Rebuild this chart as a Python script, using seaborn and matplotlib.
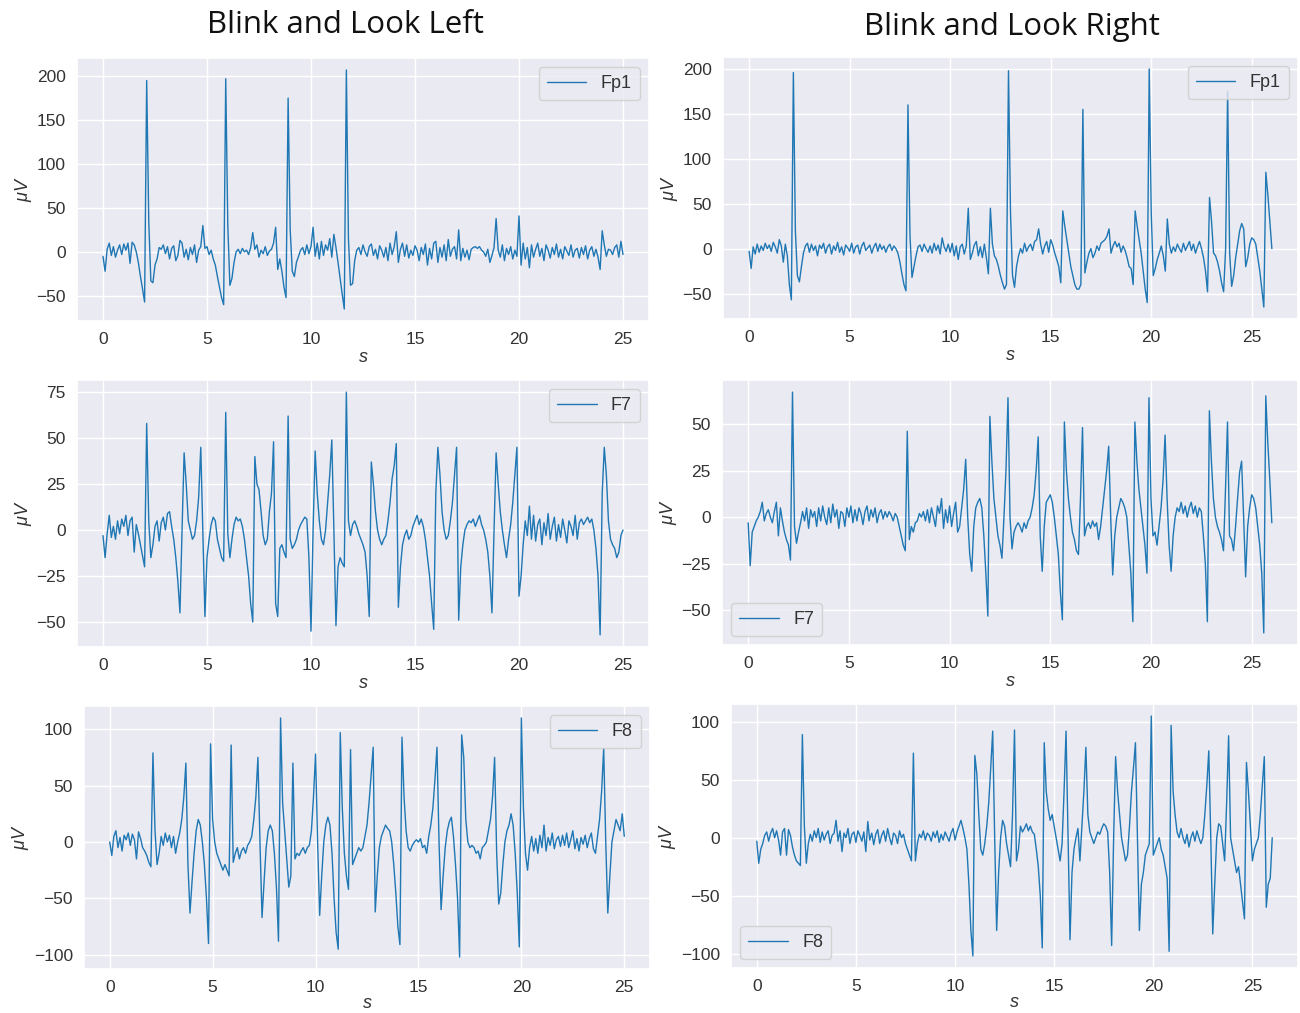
import numpy as np
import pandas as pd
import matplotlib
matplotlib.use("Agg")
import matplotlib.pyplot as plt
import seaborn as sns

DT = 0.1  # sampling step of the hand-read traces (s)

# ---------------- Blink and Look Left ----------------
left_fp1 = [
    -5, -22, 3, 10, -4, 6, -6, 2, 8, -3,
    9, 2, 10, -13, 11, 8, 0, -12, -28, -42,
    -57, 195, 35, -33, -35, -15, -8, 5, 3, 8,
    -2, 6, -8, 4, 7, -10, -4, 13, 10, -6,
    3, -9, 5, -3, 8, -12, 2, 6, 30, 4,
    6, -3, 2, -8, -15, -28, -40, -52, -60, 197,
    30, -38, -30, -12, 0, 3, -2, 4, 0, 2,
    -3, 5, 22, 3, 8, -6, 2, -2, 6, -4,
    1, 3, 10, 28, -20, -8, -22, -40, -52, 175,
    25, -22, -28, -12, -5, 2, 5, -3, 8, -2,
    6, 28, -5, 10, -8, 12, -4, 8, 2, 15,
    -6, 20, 5, -12, -30, -48, -65, 207, 15, -38,
    -36, -10, 2, 5, -3, 8, 0, -5, 6, 9,
    -4, 3, -8, 7, 2, -6, 5, -10, 10, -3,
    6, 23, -12, 3, 10, -5, 8, -7, 2, -4,
    7, 2, -10, 5, -3, 9, -15, 4, -8, 10,
    12, -12, 5, -6, 8, -10, 14, -5, 3, 6,
    -8, 25, -10, 4, -6, 2, -9, 3, 5, 6,
    4, 6, 2, 0, -5, 3, -12, -4, 5, 38,
    2, -6, 8, -10, 4, -3, 6, -8, 2, -5,
    41, -15, 10, -8, 5, -18, 8, -6, 3, 10,
    -5, 4, -10, 8, 2, -7, 5, -3, 9, -6,
    3, -8, 6, 1, -4, 8, -6, 2, 4, -7,
    5, -3, 7, -8, 2, 6, -5, 3, -6, -20,
    24, 8, -5, 3, 2, -3, 5, 8, -6, 12,
    -3,
]

left_f7 = [
    -3, -15, -2, 8, -4, 2, -5, 5, -2, 6,
    2, 8, -3, 5, 7, -12, 3, -2, -8, -14,
    -20, 58, 5, -15, -8, 2, 5, -6, 4, 7,
    0, 9, 10, 2, -5, -15, -28, -45, 0, 42,
    25, 5, 0, -5, -3, 5, 18, 45, 0, -47,
    -15, -5, 3, 7, 5, -5, -10, -15, -17, 64,
    -2, -15, -5, 3, 7, 5, 6, 2, -5, -15,
    -25, -40, -50, 40, 25, 22, 10, -3, -8, -5,
    10, 20, 48, -40, -47, -10, -8, -12, -15, 62,
    -5, -10, -8, -5, 0, 3, 5, 7, 6, -15,
    -55, 0, 43, 20, 5, -5, -8, 0, 15, 30,
    49, 0, -52, -20, -15, -18, -20, 75, 5, -3,
    3, 5, 2, -2, -5, -8, -12, -25, -47, 37,
    25, 10, 0, -5, -8, -5, -3, 5, 15, 28,
    35, 47, -42, -20, -8, -3, 0, -5, -3, 2,
    5, 8, 3, 6, 2, -5, -15, -25, -40, -54,
    20, 45, 30, 10, 0, -5, -3, 5, 15, 30,
    45, -49, -20, -8, 0, 3, 5, 4, 6, 2,
    5, 8, 3, 0, -5, -12, -25, -45, 0, 42,
    25, 10, 0, -8, -15, -5, 3, 15, 30, 45,
    -36, -25, -8, 5, -3, 13, -5, 8, -6, 3,
    6, -8, 4, -3, 9, -5, 2, 7, -6, 3,
    -4, 6, 0, -7, 5, 2, -3, 8, -5, 4,
    6, 3, 5, 7, 4, 6, 0, -10, -25, -57,
    20, 45, 30, 5, -5, -8, -10, -15, -12, -3,
    0,
]

left_f8 = [
    0, -12, 5, 10, -5, 4, -8, 6, 2, 8,
    -3, 7, 2, -15, 9, 3, -5, -8, -12, -18,
    -22, 79, 10, -20, -10, 5, -3, 8, 0, 6,
    -5, 5, -10, 0, 8, 20, 40, 70, -20, -63,
    -35, -10, 10, 20, 15, 0, -20, -50, -90, 87,
    20, 0, -10, -15, -20, -25, -20, -25, -30, 86,
    -18, -10, -5, -15, -8, -5, -10, -3, 0, 5,
    20, 40, 75, 0, -67, -35, -5, 10, 15, 10,
    -10, -40, -88, 110, 35, 10, -15, -40, -30, 70,
    -15, -10, -12, -8, -5, -10, -5, -3, 10, 40,
    78, 0, -65, -30, 0, 15, 22, 15, -10, -50,
    -80, -95, 97, 30, -10, -30, -42, 82, -20, -15,
    -10, -5, -8, -5, 5, 15, 35, 60, 84, -62,
    -30, -5, 5, 10, 15, 12, 10, 0, -20, -45,
    -75, -91, 93, 40, 10, -5, -8, -3, 0, 2,
    0, 3, -5, -3, -10, 5, 15, 30, 55, 84,
    0, -60, -30, -5, 10, 18, 22, 5, -20, -50,
    -102, 95, 75, 20, 0, -5, -3, -5, -10, -8,
    -15, -5, -3, 0, 10, 20, 40, 75, -10, -55,
    -45, -20, 0, 10, 15, 25, 15, -10, -45, -93,
    110, 30, -10, -25, -5, 5, -8, 3, -10, 6,
    -5, 15, -8, 4, -3, 8, -6, 2, 5, -4,
    6, -3, 8, -5, 2, 10, -6, 3, -8, 4,
    -2, 6, -5, 3, 8, -6, -10, 5, 20, 45,
    83, 0, -63, -30, 0, 10, 20, 15, 10, 25,
    5,
]

# ---------------- Blink and Look Right ----------------
right_fp1 = [
    -3, -22, 2, -6, 5, -4, 3, -2, 6, 0,
    4, -3, 7, 2, -5, 10, 3, -15, 5, -8,
    -40, -57, 196, 20, -30, -37, -20, -5, 3, 6,
    -4, 5, -2, 3, -8, 4, 0, 6, -5, 2,
    5, -6, 3, -2, 7, -4, 2, -7, 4, 1,
    -3, 6, -5, 2, 4, -6, 3, 7, -2, 1,
    4, -5, 2, 6, -3, 5, -1, 3, -4, 2,
    5, -2, 3, 0, -5, -15, -28, -40, -47, 160,
    15, -32, -20, -8, 2, 4, -3, 5, 0, -4,
    3, -5, 6, -2, 4, -6, 12, 2, -3, 5,
    -4, 6, -8, 3, -12, 2, 5, -6, 3, 45,
    -12, -5, 4, 8, -8, 2, -10, 5, -10, -28,
    45, 5, -8, -12, -20, -30, -38, -45, -40, 198,
    40, -30, -43, -20, -8, 0, -5, 6, -3, 2,
    5, -2, 8, 10, 22, 5, -6, 3, 8, -4,
    10, 4, -5, -12, -20, -38, 42, 25, 10, -5,
    -20, -30, -40, -45, -45, -40, 155, -27, -15, -5,
    0, -10, -5, 3, -2, 6, 8, 10, 14, 22,
    -5, 3, 8, 2, 6, -4, 3, -2, -10, -20,
    -22, -40, 42, 25, 10, -5, -25, -45, -60, 200,
    40, -30, -22, -12, -5, 3, -8, -25, 33, 5,
    -5, 2, -3, 5, 0, -4, 6, -2, 3, 8,
    -2, 5, -5, 2, 8, 0, -10, -25, -48, 57,
    30, -5, -8, -15, -25, -38, -48, 0, 175, -5,
    -42, -30, -10, 5, 20, 28, 22, -20, -10, 5,
    12, 10, 5, -10, -25, -45, -65, 85, 60, 30,
    0,
]

right_f7 = [
    -3, -26, -8, -5, -2, 0, 3, 8, -2, 2,
    4, 0, -3, 3, 8, -10, 5, -2, -8, -12,
    -15, -23, 67, -5, -14, -8, -3, 3, -2, 5,
    -6, 4, 0, 3, -5, 5, -2, 6, 0, -4,
    5, -3, 7, 0, 4, -6, 3, 2, -5, 5,
    0, 6, -3, 4, -2, 5, 2, -4, 3, 6,
    -2, 4, 0, 5, -3, 2, 4, -1, 3, 0,
    3, 1, -2, 2, 0, -5, -10, -15, -18, 46,
    -12, -5, -8, -3, -2, 2, 0, 3, -2, 4,
    -3, 5, 0, -5, 6, 2, 10, -6, 4, -3,
    6, -5, 2, 8, -8, -5, 5, 15, 31, 0,
    -20, -29, -5, 5, 8, 10, 5, -10, -30, -53,
    54, 30, 10, 0, -10, -15, -22, 0, 25, 64,
    0, -17, -8, -5, -3, -5, -8, -3, -6, -2,
    0, 5, 12, 25, 43, -10, -29, -5, 8, 10,
    12, 8, 0, -10, -20, -40, -55, 51, 25, 10,
    0, -8, -12, -18, -20, 10, 48, -10, -5, -3,
    -6, -2, -5, -3, -12, -5, 5, 15, 25, 38,
    0, -31, -10, 0, 5, 10, 8, 5, 0, -15,
    -30, -56, 51, 30, 15, 5, -5, -15, -30, 64,
    10, -10, -8, -15, -5, 5, 20, 44, 10, -15,
    -29, -10, 0, 5, 3, 8, 2, 6, 0, 5,
    8, 2, 6, 0, 5, 3, -10, -25, -56, 57,
    30, 10, 0, -5, -8, -12, -18, 15, 51, -10,
    -12, -18, -5, 10, 24, 30, 0, -32, -5, 5,
    12, 10, 5, -5, -15, -30, -62, 65, 40, 20,
    -3,
]

right_f8 = [
    -3, -22, -10, -5, 2, 5, -3, 4, 8, 0,
    6, -2, -15, 5, 8, -15, 7, 2, -8, -15,
    -20, -22, -24, 89, 10, -22, -5, 3, -3, 6,
    0, 8, -4, 5, -2, 3, 6, -5, 2, 4,
    15, -3, 6, -12, 4, 0, 8, -5, 3, 5,
    -4, 6, 2, -3, 5, -12, 14, -2, 4, -6,
    3, 7, -5, 2, 6, -3, 8, 0, -6, 4,
    2, -5, 6, 0, 3, -5, -10, -15, -20, 73,
    -20, -5, 3, 0, 6, -2, 4, 2, -3, 5,
    0, 6, -4, 3, -2, 5, 1, -3, 4, 8,
    -2, 5, 10, 15, 8, 0, -10, -40, -80, -102,
    71, 55, 20, -10, -15, -5, 10, 30, 60, 92,
    0, -80, -30, 0, 15, 10, -5, -15, -25, 20,
    93, -20, -10, 10, 5, 8, 12, 6, 10, 5,
    3, -10, -25, -50, -95, 82, 40, 25, 15, 20,
    10, 0, -10, -20, -5, 40, 92, 0, -88, -30,
    -10, 0, 8, -20, 10, 40, 78, 20, 5, 0,
    -5, 0, 5, 3, 8, 12, 10, 5, -30, -93,
    0, 70, 40, 20, 0, -10, -20, -15, 10, 40,
    60, 82, 0, -80, -40, -30, -15, -10, -5, 105,
    -15, -10, -5, 0, -10, -15, -25, -35, -98, 97,
    40, 20, 5, 0, 8, 0, -5, 3, -8, 0,
    5, -3, 6, 0, -5, 0, 20, 45, 75, 0,
    -83, -40, 0, 12, 10, -5, -20, 30, 88, 0,
    -10, -20, -30, -25, -40, -55, -70, 65, 40, 10,
    -20, -10, -5, 0, 20, 45, 70, -60, -40, -35,
    0,
]

channels = ["Fp1", "F7", "F8"]
col_titles = ["Blink and Look Left", "Blink and Look Right"]
series = {
    (0, 0): left_fp1, (1, 0): left_f7, (2, 0): left_f8,
    (0, 1): right_fp1, (1, 1): right_f7, (2, 1): right_f8,
}
for key, vals in series.items():
    assert len(vals) in (251, 261), (key, len(vals))

# ---------------- style ----------------
sns.set_theme(style="darkgrid")
plt.rcParams["font.family"] = ["Liberation Sans", "DejaVu Sans"]
plt.rcParams["mathtext.fontset"] = "custom"
plt.rcParams["mathtext.it"] = "Liberation Sans:italic"
plt.rcParams["mathtext.rm"] = "Liberation Sans"

W, H = 1300, 1013
fig = plt.figure(figsize=(W / 100, H / 100), dpi=100)

# axes boxes in pixels: (left, top, right, bottom)
boxes = {
    (0, 0): (77, 58, 649, 321), (0, 1): (723, 57, 1298, 319),
    (1, 0): (77, 380, 649, 647), (1, 1): (722, 380, 1298, 645),
    (2, 0): (84, 706, 650, 969), (2, 1): (731, 704, 1298, 968),
}
ylims = {
    (0, 0): (-78.6, 220.6), (0, 1): (-78.3, 213.3),
    (1, 0): (-63.6, 81.6), (1, 1): (-68.5, 73.5),
    (2, 0): (-112.6, 120.6), (2, 1): (-112.4, 115.4),
}
yticks = {
    (0, 0): [-50, 0, 50, 100, 150, 200], (0, 1): [-50, 0, 50, 100, 150, 200],
    (1, 0): [-50, -25, 0, 25, 50, 75], (1, 1): [-50, -25, 0, 25, 50],
    (2, 0): [-100, -50, 0, 50, 100], (2, 1): [-100, -50, 0, 50, 100],
}
legend_loc = {
    (0, 0): "upper right", (1, 0): "upper right", (2, 0): "upper right",
    (0, 1): "upper right", (1, 1): "lower left", (2, 1): "lower left",
}

for (r, c), vals in series.items():
    l, t, rr, b = boxes[(r, c)]
    ax = fig.add_axes([l / W, 1 - b / H, (rr - l) / W, (b - t) / H])
    df = pd.DataFrame({"s": np.arange(len(vals)) * DT, "uV": vals})
    sns.lineplot(data=df, x="s", y="uV", ax=ax, color="#1f77b4",
                 linewidth=1.0, label=channels[r])
    ax.set_xlim(-0.05 * df["s"].max(), 1.05 * df["s"].max())
    ax.set_ylim(*ylims[(r, c)])
    ax.set_xticks([0, 5, 10, 15, 20, 25])
    ax.set_yticks(yticks[(r, c)])
    ax.tick_params(labelsize=12.5, colors="#333333", pad=2)
    ax.set_xlabel("$s$", fontsize=13, color="#333333",
                  labelpad=0 if r == 2 else 1)
    ax.set_ylabel(r"$\mu V$", fontsize=13, color="#333333", labelpad=2)
    leg = ax.legend(loc=legend_loc[(r, c)], fontsize=13, frameon=True,
                    handlelength=2.2, borderpad=0.45)
    for txt in leg.get_texts():
        txt.set_color("#333333")

fig.text(345 / W, 1 - 25 / H, col_titles[0], ha="center", va="center",
         fontsize=22.5, family=["Open Sans", "DejaVu Sans"], color="#111111")
fig.text(1012 / W, 1 - 27 / H, col_titles[1], ha="center", va="center",
         fontsize=22.5, family=["Open Sans", "DejaVu Sans"], color="#111111")

fig.savefig("out.png", dpi=100, facecolor="white")
